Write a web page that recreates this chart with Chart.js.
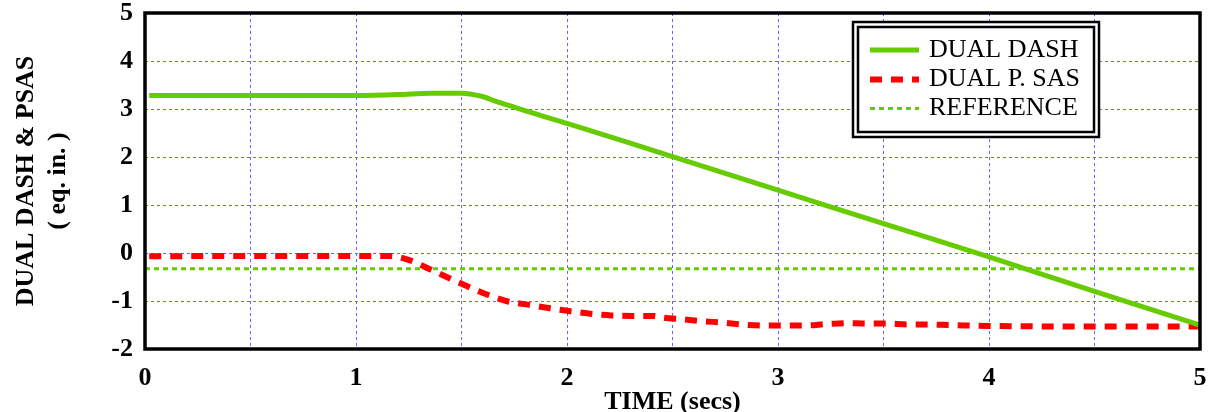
<!DOCTYPE html>
<html lang="en">
<head>
  <meta charset="UTF-8" />
  <title>Dual DASH & PSAS</title>
  <script src="https://cdn.jsdelivr.net/npm/chart.js"></script>
  <style>
    html, body { margin: 0; padding: 0; background: #fff; }
    #wrap { width: 1214px; height: 412px; }
  </style>
</head>
<body>
  <div id="wrap"><canvas id="dashChart"></canvas></div>

  <script>
    // time (s) and stick position (eq. in.)
    const dashTime = [0.02, 0.5, 1.0, 1.2, 1.35, 1.5, 1.59, 1.67, 1.75, 1.82, 2.0, 2.3, 2.5, 3.0, 3.5, 4.0, 4.5, 5.0];
    const dashValues = [3.28, 3.28, 3.28, 3.30, 3.33, 3.33, 3.27, 3.15, 3.04, 2.94, 2.70, 2.29, 2.01, 1.31, 0.61, -0.08, -0.80, -1.50];

    const psasTime = [0.02, 0.5, 1.0, 1.16, 1.26, 1.35, 1.44, 1.53, 1.63, 1.72, 1.82, 1.92, 2.01, 2.12, 2.21, 2.31, 2.41, 2.46, 2.55, 2.64, 2.74, 2.83, 2.93, 3.03, 3.13, 3.23, 3.33, 3.42, 3.52, 3.61, 3.71, 3.81, 4.0, 4.5, 5.0];
    const psasValues = [-0.07, -0.06, -0.06, -0.06, -0.16, -0.34, -0.52, -0.70, -0.88, -1.01, -1.08, -1.15, -1.21, -1.27, -1.30, -1.31, -1.31, -1.35, -1.38, -1.42, -1.45, -1.49, -1.51, -1.51, -1.51, -1.48, -1.46, -1.47, -1.47, -1.49, -1.49, -1.50, -1.52, -1.53, -1.53];

    const refTime = [0, 5];
    const refValues = [-0.33, -0.33];

    const seriesNames = ["DUAL DASH", "DUAL P. SAS", "REFERENCE"];
    const xTicks = [0, 1, 2, 3, 4, 5];
    const yRange = [-2, 5];

    const serif = '"Liberation Serif", "Times New Roman", serif';
    const green = "#66cc00";
    const red = "#ff0000";
    const gridBlue = "#6464ff";

    const toPoints = (xs, ys) => xs.map((x, i) => ({ x: x, y: ys[i] }));

    // keep the plot box where it is: no extra room for edge tick labels
    const noEdgePadding = scale => {
      scale.paddingTop = 0;
      scale.paddingBottom = 0;
      scale.paddingLeft = 0;
      scale.paddingRight = 0;
    };

    // black frame around the plot area
    const framePlugin = {
      id: "frame",
      afterDraw(chart) {
        const a = chart.chartArea;
        const c = chart.ctx;
        c.save();
        c.strokeStyle = "#000";
        c.lineWidth = 3.5;
        c.strokeRect(a.left, a.top, a.right - a.left, a.bottom - a.top);
        c.restore();
      }
    };

    // double-bordered legend inside the upper right of the plot
    const boxLegend = {
      id: "boxLegend",
      afterDraw(chart) {
        const a = chart.chartArea;
        const c = chart.ctx;
        const x0 = a.right - 347, y0 = a.top + 9, w = 246, h = 115;
        c.save();
        c.fillStyle = "#fff";
        c.fillRect(x0, y0, w, h);
        c.strokeStyle = "#000";
        c.lineWidth = 2.5;
        c.strokeRect(x0, y0, w, h);
        c.strokeRect(x0 + 5, y0 + 5, w - 10, h - 10);

        c.font = "26px " + serif;
        c.textBaseline = "middle";
        c.fillStyle = "#000";
        const rows = [28, 57.5, 86.5];
        chart.data.datasets.forEach((ds, i) => {
          const y = y0 + rows[i];
          c.beginPath();
          c.strokeStyle = ds.borderColor;
          c.lineWidth = ds.borderWidth;
          c.setLineDash(ds.borderDash || []);
          c.moveTo(x0 + 17, y);
          c.lineTo(x0 + 66, y);
          c.stroke();
          c.setLineDash([]);
          c.fillText(ds.label, x0 + 76, y);
        });
        c.restore();
      }
    };

    new Chart(document.getElementById("dashChart"), {
      type: "line",
      data: {
        datasets: [
          {
            label: seriesNames[0],
            data: toPoints(dashTime, dashValues),
            borderColor: green,
            borderWidth: 5,
            cubicInterpolationMode: "monotone",
            pointRadius: 0
          },
          {
            label: seriesNames[1],
            data: toPoints(psasTime, psasValues),
            borderColor: red,
            borderWidth: 6,
            borderDash: [12, 9],
            cubicInterpolationMode: "monotone",
            pointRadius: 0
          },
          {
            label: seriesNames[2],
            data: toPoints(refTime, refValues),
            borderColor: green,
            borderWidth: 3,
            borderDash: [5, 4],
            pointRadius: 0
          }
        ]
      },
      options: {
        responsive: true,
        maintainAspectRatio: false,
        animation: false,
        layout: { padding: { top: 13, right: 14, left: 0, bottom: 0 } },
        plugins: { legend: { display: false }, tooltip: { enabled: false } },
        scales: {
          x: {
            type: "linear",
            min: xTicks[0],
            max: xTicks[xTicks.length - 1],
            afterFit(scale) { scale.height = 63; noEdgePadding(scale); },
            grid: { color: gridBlue, lineWidth: 1, drawTicks: false },
            border: { display: false, dash: [3, 3] },
            ticks: {
              stepSize: 0.5,
              autoSkip: false,
              maxRotation: 0,
              padding: 14,
              color: "#000",
              font: { family: serif, size: 26, weight: "bold" },
              callback: v => (xTicks.includes(v) ? String(v) : "")
            },
            title: {
              display: true,
              text: "TIME (secs)",
              color: "#000",
              font: { family: serif, size: 26, weight: "bold" },
              padding: { top: 0, bottom: -6 }
            }
          },
          y: {
            min: yRange[0],
            max: yRange[1],
            afterFit(scale) { scale.width = 145; noEdgePadding(scale); },
            grid: { color: gridBlue, lineWidth: 1, drawTicks: false },
            border: { display: false, dash: [3, 3] },
            ticks: {
              stepSize: 1,
              padding: 12,
              color: "#000",
              font: { family: serif, size: 26, weight: "bold" }
            },
            title: {
              display: true,
              text: ["DUAL DASH & PSAS", "( eq. in. )"],
              color: "#000",
              font: { family: serif, size: 26, weight: "bold" },
              padding: { top: 11, bottom: 0 }
            }
          }
        }
      },
      plugins: [framePlugin, boxLegend]
    });
  </script>
</body>
</html>
